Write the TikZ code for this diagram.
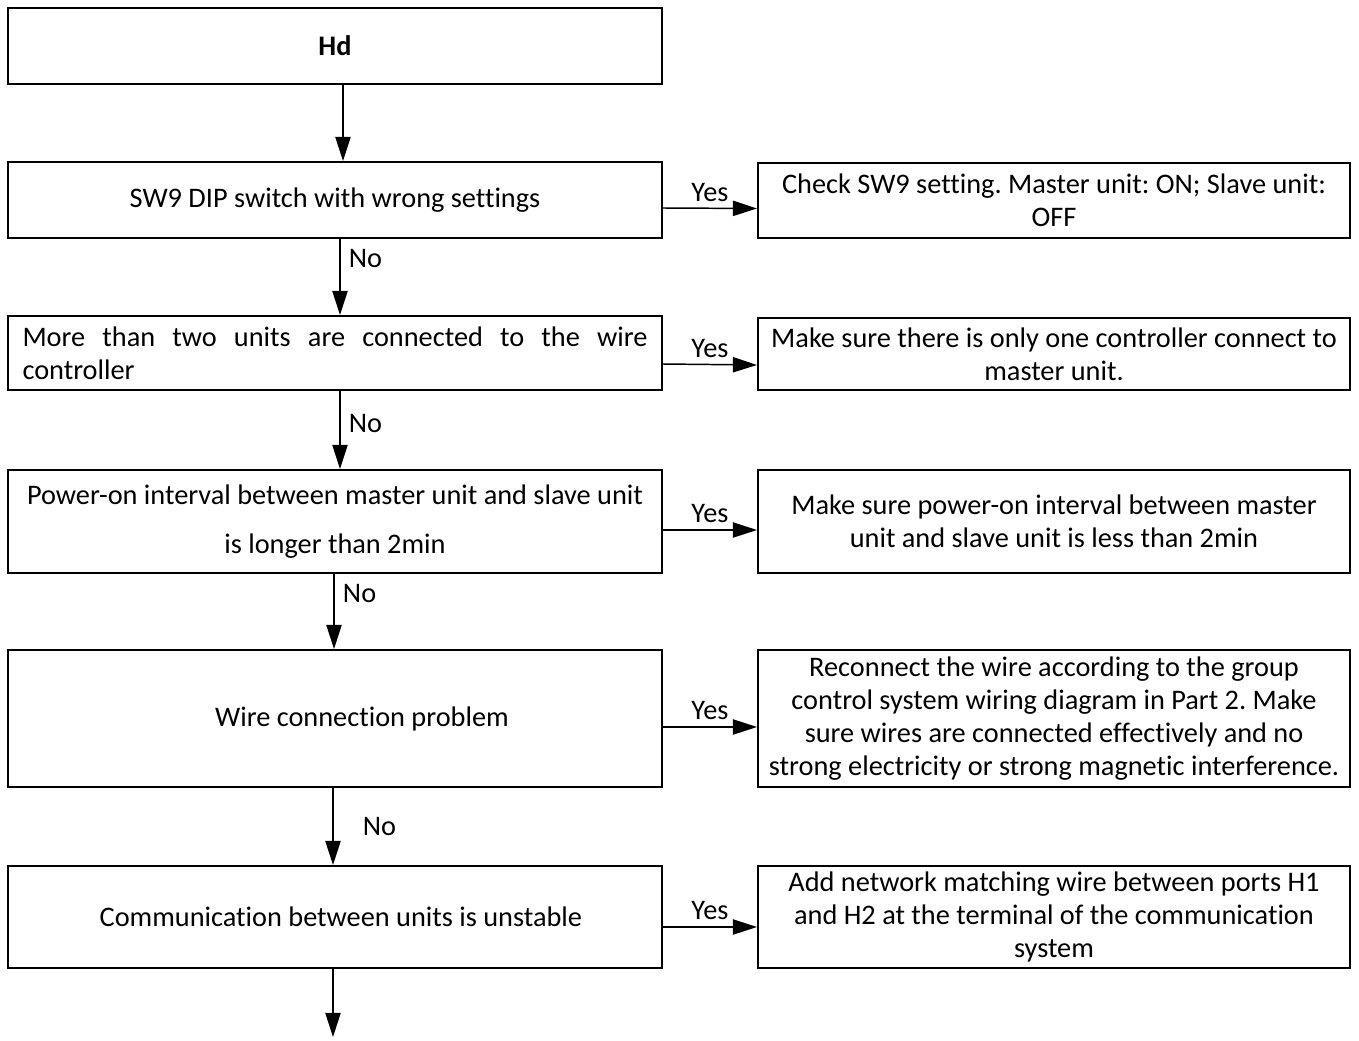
\documentclass[tikz,border=0pt]{standalone}
\usepackage{fontspec}
\setmainfont{Carlito}[Ligatures=NoCommon]
\usetikzlibrary{arrows.meta, positioning, calc}
\frenchspacing

\begin{document}
\begin{tikzpicture}[x=0.406pt, y=-0.406pt, font=\fontsize{11.5}{13.4}\selectfont,
  lbox/.style={draw, line width=0.8pt, minimum width=265.5pt, inner sep=2pt},
  rbox/.style={draw, line width=0.8pt, minimum width=240.4pt, inner sep=1pt, align=center},
  arr/.style={-{Triangle[length=9.8pt,width=6.2pt]}, line width=0.6pt}]
  \def\px{0.406pt}
  \useasboundingbox (0,0) rectangle (1359,1041);
  % left column
  \node[lbox, minimum height=76*\px] (hd) at (335,46) {\textbf{Hd}};
  \node[lbox, minimum height=76*\px] (sw9) at (335,200) {SW9 DIP switch with wrong settings};
  \node[lbox, minimum height=74*\px, text width=253.75pt, align=left] (more) at (335,353)
    {\hbox to 253.75pt{More\hfill than\hfill two\hfill units\hfill are\hfill connected\hfill to\hfill the\hfill wire}\\controller};
  \node[lbox, minimum height=103*\px, align=center] (pwr) at (335,521.5)
    {Power-on interval between master unit and slave unit\\[6.6pt]is longer than 2min};
  \node[lbox, minimum height=137*\px] (wire) at (335,718.5) {\hspace*{21.9pt}Wire connection problem};
  \node[lbox, minimum height=102*\px] (comm) at (335,917) {\hspace*{4.8pt}Communication between units is unstable};
  \coordinate (out) at (333,1037);
  % right column
  \node[rbox, minimum height=75*\px] (chk) at (1054,200.5)
    {Check SW9 setting. Master unit: ON; Slave unit:\\OFF};
  \node[rbox, minimum height=72*\px] (only) at (1054,354)
    {Make sure there is only one controller connect to\\master unit.};
  \node[rbox, minimum height=103*\px] (pint) at (1054,521.5)
    {Make sure power-on interval between master\\unit and slave unit is less than 2min};
  \node[rbox, minimum height=137*\px] (recon) at (1054,718.5)
    {Reconnect the wire according to the group\\control system wiring diagram in Part 2. Make\\sure wires are connected effectively and no\\strong electricity or strong magnetic interference.};
  \node[rbox, minimum height=102*\px] (addw) at (1054,917)
    {Add network matching wire between ports H1\\and H2 at the terminal of the communication\\system};
  % yes branches
  \foreach \a/\b/\dy in {sw9/chk/8, more/only/11, pwr/pint/8.5, wire/recon/8.5, comm/addw/10}
    \draw[arr] ([yshift=-\dy*\px]\a.east) -- ([yshift=-\dy*\px]\b.west)
      node[midway, above, inner sep=2.5pt] {Yes};
  % no branches
  \draw[arr] ([xshift=8*\px]hd.south) -- ([xshift=8*\px]sw9.north);
  \foreach \a/\b/\dx/\p/\lx in {sw9/more/5/0.26/0, more/pwr/5/0.42/0, pwr/wire/-1/0.26/0, wire/comm/-2/0.5/21}
    \draw[arr] ([xshift=\dx*\px]\a.south) -- ([xshift=\dx*\px]\b.north)
      node[pos=\p, right, xshift=\lx*\px] {No};
  \draw[arr] (comm.south -| out) -- (out);
\end{tikzpicture}
\end{document}
